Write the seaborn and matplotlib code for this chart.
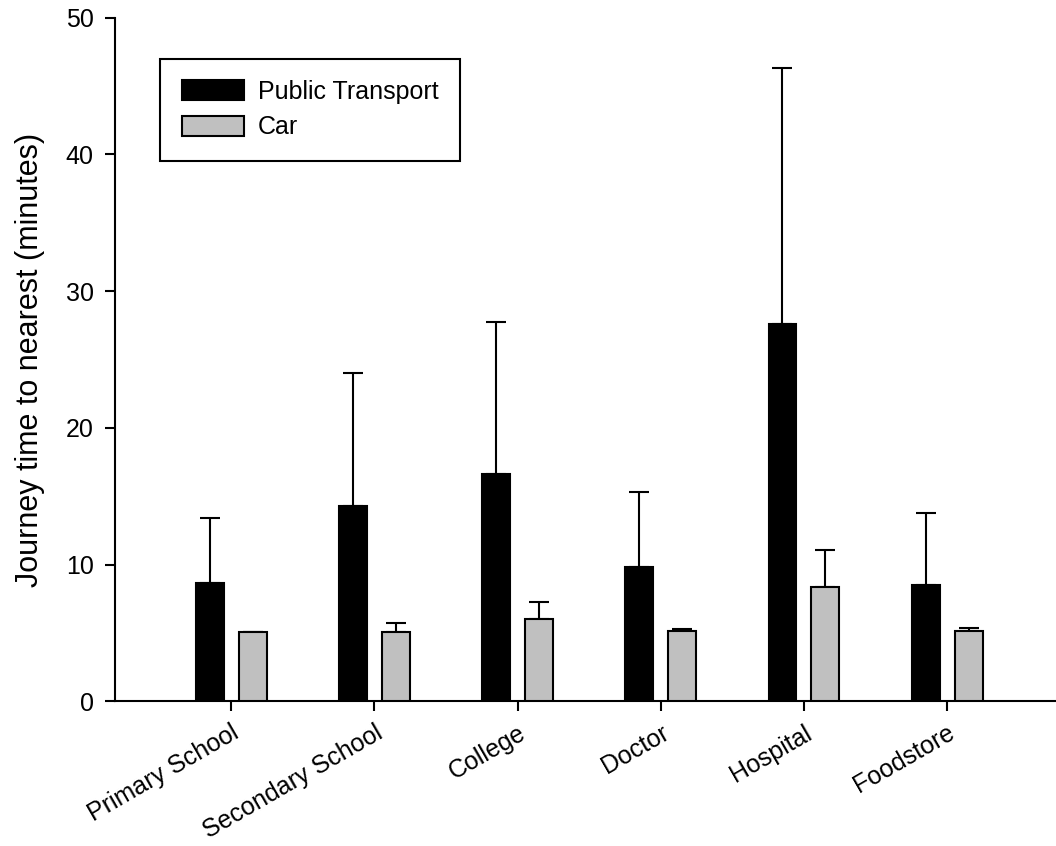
import pandas as pd
import matplotlib
matplotlib.use('Agg')
import matplotlib.pyplot as plt
import seaborn as sns
import numpy as np

categories = ['Primary School', 'Secondary School', 'College', 'Doctor', 'Hospital', 'Foodstore']
modes = ['Public Transport', 'Car']
public_transport = [8.66, 14.28, 16.64, 9.81, 27.63, 8.49]
public_transport_err = [4.76, 9.72, 11.08, 5.47, 18.67, 5.27]
car = [5.10, 5.10, 6.00, 5.12, 8.35, 5.15]
car_err = [0.0, 0.63, 1.30, 0.15, 2.72, 0.19]

df = pd.DataFrame({
    'Place': categories * 2,
    'Mode': [modes[0]] * len(categories) + [modes[1]] * len(categories),
    'Time': public_transport + car,
    'Err': public_transport_err + car_err,
})

sns.set_style("ticks")
plt.rcParams['font.family'] = ['Liberation Sans', 'DejaVu Sans']
plt.rcParams['text.color'] = 'black'
plt.rcParams['axes.labelcolor'] = 'black'
plt.rcParams['xtick.color'] = 'black'
plt.rcParams['ytick.color'] = 'black'

fig = plt.figure(figsize=(10.56, 8.46), dpi=100)
ax = fig.add_axes([0.109, 0.171, 0.891, 0.808])

sns.barplot(data=df, x='Place', y='Time', hue='Mode', order=categories, hue_order=modes,
            palette=['black', '#c0c0c0'], edgecolor='black', linewidth=1.5,
            width=0.6, gap=0.35, errorbar=None, ax=ax, zorder=3)

# upward-only error bars placed on the drawn bars
bars = [p for p in ax.patches if p.get_height() > 0]
for p, e in zip(bars, df['Err']):
    xc = p.get_x() + p.get_width() / 2
    ax.errorbar(xc, p.get_height(), yerr=[[0], [e]], fmt='none', ecolor='black',
                elinewidth=1.5, capsize=7.5, capthick=1.5, zorder=2)

ax.set_ylim(0, 50)
ax.set_xlim(-0.81, 5.76)
ax.set_yticks([0, 10, 20, 30, 40, 50])
ax.set_xlabel('')
ax.set_ylabel('Journey time to nearest (minutes)', fontsize=22, labelpad=15)
ax.tick_params(axis='both', labelsize=18, length=7, width=1.5, color='black')
ax.tick_params(axis='y', pad=8.5)
ax.tick_params(axis='x', pad=7)
plt.setp(ax.get_xticklabels(), rotation=30, ha='right', va='top', rotation_mode='anchor')
for s in ['left', 'bottom']:
    ax.spines[s].set_linewidth(1.5)
    ax.spines[s].set_color('black')
sns.despine(ax=ax)

handles, labels = ax.get_legend_handles_labels()
leg = ax.legend(handles, labels, loc='upper left', bbox_to_anchor=(0.048, 0.94),
                borderaxespad=0, fontsize=18, frameon=True, fancybox=False,
                handlelength=2.5, handleheight=0.85, borderpad=0.85, labelspacing=0.45,
                handletextpad=0.55)
leg.get_frame().set_edgecolor('black')
leg.get_frame().set_linewidth(1.5)
leg.get_frame().set_alpha(1)
ax.set_facecolor('white')

fig.savefig('out.png', dpi=100)
